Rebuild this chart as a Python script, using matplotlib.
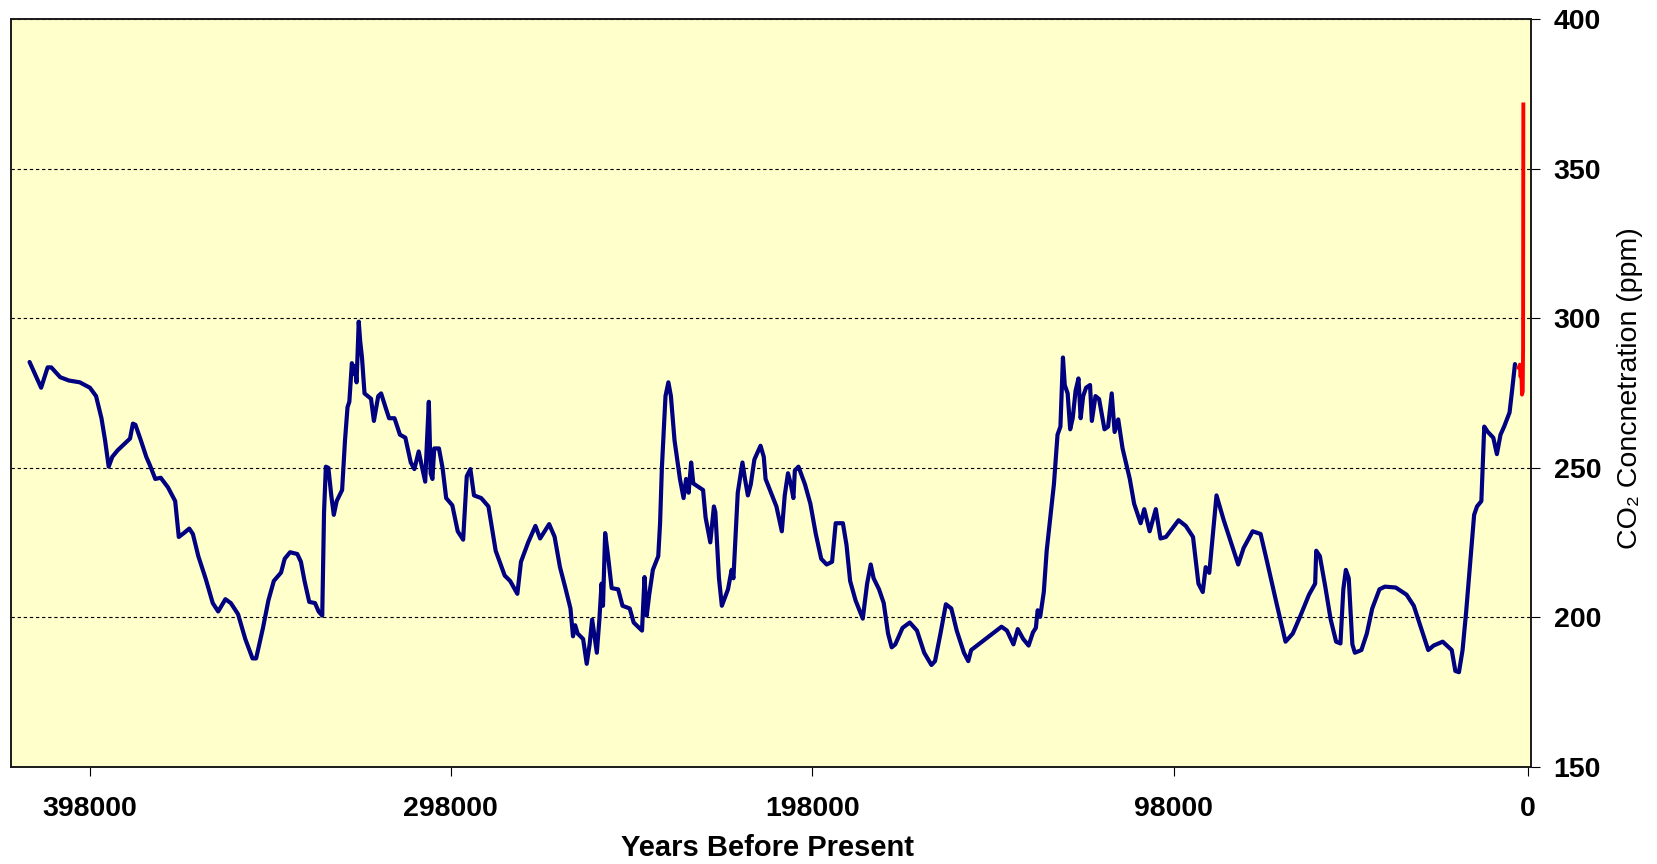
import matplotlib
matplotlib.use("Agg")
import matplotlib.pyplot as plt

# Vostok-style ice core record, years before present vs CO2 (ppm)
years_bp = [
    414600, 411400, 409600, 408600, 406100, 403700, 400700, 397900, 396200, 394700,
    393700, 392700, 391700, 390200, 386800, 386000, 385300, 383800, 382300, 381300,
    379800, 378300, 376300, 374300, 373300, 371900, 370400, 369400, 367900, 365900,
    363900, 362400, 360400, 358900, 356900, 354900, 352900, 351900, 350000, 348500,
    347000, 345000, 344000, 342500, 340500, 339500, 338500, 337200, 335600, 334600,
    333600, 333100, 332600, 331900, 331100, 330400, 329600, 328100, 327300, 326600,
    326100, 325400, 324900, 324600, 324100, 323500, 323100, 322600, 321900, 320100,
    319300, 318100, 317300, 316100, 315100, 313600, 312100, 310600, 309100, 308100,
    306900, 306100, 305100, 304600, 304100, 303600, 303100, 302600, 301300, 300300,
    299300, 297600, 296100, 294600, 293600, 292600, 291600, 289600, 287600, 285600,
    283100, 281600, 279600, 278600, 276600, 274600,
    273300, 270800, 269300, 267800, 266400, 264900, 264200, 263600, 262900, 261400,
    260400, 259600, 258900, 257600, 256900, 256300, 255900, 255300, 254500, 253500,
    251700, 250500, 248500, 247400, 245100, 244400, 243800, 243100, 242100, 240600,
    240100, 239600, 238600, 237800, 237100, 236100, 234600, 233600, 232900, 232200,
    231500, 230900, 228200, 227500, 226200, 225200, 224800, 223800, 223000, 221300,
    220300, 219800, 218600, 217300, 216600, 215800, 215000, 214000, 212300, 211400,
    210900, 209400, 207900, 206400, 205600, 204700, 203900, 203200, 202800, 201800,
    200000, 198500, 197000, 195500, 194000, 192500, 191500, 189500, 188500, 187500,
    186000, 184000, 182800, 181800, 181000, 179500, 178200, 177000, 176000, 175000,
    173000, 171000, 169000, 167000, 165000, 164000, 162500, 161000, 159500, 158000,
    156000, 154800, 154000, 151000, 148100, 145600, 144100, 142300, 141100, 139600,
    138100, 136900, 136100, 135600, 134900, 133900, 133100, 132100, 131100, 130100,
    129300, 128600, 128100, 127300, 126600, 125900, 125100, 124300, 123700, 123000,
    122200,
    121100, 120600, 119600, 118600, 117100, 116100, 115100, 114300, 113300, 112100,
    110100, 108900, 107100, 106100, 104600, 102900, 101600, 100100, 96600, 94600,
    92600, 91100, 89900, 89100, 88100, 86100, 84100, 81600, 80100, 78600,
    76100, 73900, 72100, 69500, 67000, 65000, 63000, 60500, 58800, 58500,
    57500, 56000, 54500, 53000, 51800, 51000, 50300, 49500, 48500, 47800,
    46000, 44500, 43000, 41000, 39500, 36500, 33500, 31500, 29500, 27500,
    26000, 23500, 21000, 20000, 19000, 18000, 17000, 16000, 14800, 14000,
    12800, 12000, 11000, 9500, 8500, 7500, 6500, 5000, 4300, 3500,
]
co2_ppm = [
    285.4, 276.8, 283.6, 283.6, 280.3, 279.2, 278.6, 276.8, 274.0, 266.6,
    259.2, 250.4, 253.7, 255.9, 259.8, 264.8, 264.4, 259.2, 253.7, 250.9,
    246.3, 246.7, 243.5, 238.9, 226.9, 228.2, 229.7, 227.9, 220.5, 213.1,
    204.8, 202.0, 206.1, 204.8, 201.1, 192.8, 186.3, 186.3, 196.5, 205.7,
    212.2, 215.0, 219.6, 221.8, 221.2, 218.6, 212.2, 205.2, 204.8, 202.0,
    200.6, 235.2, 250.4, 250.0, 240.8, 234.3, 238.9, 242.6, 259.2, 270.3,
    272.1, 285.0, 281.4, 284.1, 278.6, 298.9, 292.4, 286.9, 274.9, 273.1,
    265.7, 274.0, 274.9, 270.3, 266.6, 266.6, 261.1, 260.1, 251.8, 249.6,
    255.5, 250.9, 245.4, 259.2, 272.1, 248.2, 246.3, 256.5, 256.5, 250.0,
    239.9, 237.5, 228.8, 226.0, 247.2, 249.6, 240.8, 239.9, 237.1, 222.3,
    214.0, 212.2, 207.9, 218.6, 225.1, 230.6,
    226.4, 231.2, 227.0, 216.8, 210.3, 203.0, 193.7, 197.4, 194.6, 192.8,
    184.5, 191.0, 199.3, 188.2, 199.3, 211.3, 203.9, 228.2, 220.5, 209.8,
    209.4, 203.9, 203.0, 198.3, 195.6, 213.5, 200.6, 207.6, 215.9, 220.5,
    231.5, 250.0, 274.0, 278.6, 274.0, 259.2, 246.3, 239.9, 246.3, 241.7,
    251.8, 244.8, 242.6, 233.4, 225.1, 237.1, 235.2, 213.1, 203.9, 209.4,
    215.9, 213.1, 241.7, 251.8, 246.3, 240.8, 244.5, 252.8, 257.4, 253.7,
    246.3, 241.7, 237.1, 228.8, 240.8, 248.2, 244.5, 239.9, 249.1, 250.4,
    244.5, 238.0, 227.9, 219.6, 217.7, 218.6, 231.5, 231.5, 224.2, 212.2,
    205.7, 199.6, 211.3, 217.7, 213.1, 209.4, 204.8, 194.6, 190.0, 191.0,
    196.5, 198.3, 195.6, 188.2, 184.1, 185.4, 194.6, 204.4, 203.0, 195.6,
    188.2, 185.4, 189.1, 191.9, 194.6, 196.9, 195.6, 191.0, 196.1, 192.8,
    190.6, 195.0, 196.5, 202.4, 200.2, 208.5, 222.3, 233.4, 244.5, 261.1,
    263.8, 286.9, 277.7, 274.9, 262.9, 266.6, 275.8, 279.9, 266.6, 274.0,
    276.8,
    277.7, 265.7, 274.0, 273.0, 262.9, 263.8, 274.9, 262.0, 266.2, 256.5,
    246.3, 238.0, 231.5, 236.2, 228.8, 236.2, 226.4, 226.9, 232.5, 230.6,
    226.9, 211.3, 208.5, 216.8, 214.9, 240.8, 232.5, 223.2, 217.7, 223.2,
    228.8, 227.9, 218.6, 204.8, 191.9, 194.6, 200.2, 207.6, 211.3, 222.3,
    220.5, 210.3, 199.3, 191.9, 191.3, 209.4, 215.9, 213.1, 191.0, 188.2,
    189.1, 194.6, 203.0, 209.4, 210.3, 210.0, 207.6, 203.9, 196.5, 189.1,
    190.6, 191.9, 189.1, 182.1, 181.7, 189.1, 202.0, 216.8, 234.3, 237.1,
    238.9, 263.8, 262.0, 260.1, 254.6, 261.1, 263.8, 268.5, 275.8, 284.7,
]

# recent record (red)
modern_years = [2460, 2150, 1950, 1750, 1550, 1350, 1250, 1180]
modern_ppm = [283.5, 284.5, 280.5, 282.5, 274.5, 275.5, 290.0, 371.5]

x_ticks = [398000, 298000, 198000, 98000, 0]
y_ticks = [150, 200, 250, 300, 350, 400]

plt.rcParams['font.family'] = ['Liberation Sans', 'DejaVu Sans']

fig = plt.figure(figsize=(16.57, 8.64), dpi=100)
ax = fig.add_axes([0.00694, 0.11227, 0.91678, 0.86551])
ax.set_facecolor('#FFFFCC')

ax.plot(years_bp, co2_ppm, color='#000080', linewidth=3.0,
        solid_joinstyle='round', solid_capstyle='round')
ax.plot(modern_years, modern_ppm, color='#FF0000', linewidth=2.8)

ax.set_xlim(419600, -830)
ax.set_ylim(150, 400)
ax.set_xticks(x_ticks)
ax.set_xticklabels([str(t) for t in x_ticks])
ax.set_yticks(y_ticks)
ax.yaxis.tick_right()

ax.grid(axis='y', color='black', linestyle=(0, (3, 2.5)), linewidth=0.8)

ax.tick_params(axis='x', direction='out', length=6.3, width=0.8, pad=14.5, labelsize=20.5)
ax.tick_params(axis='y', direction='out', length=6.5, width=0.8, pad=10, labelsize=20.5,
               left=False, right=True)
for lbl in ax.get_xticklabels() + ax.get_yticklabels():
    lbl.set_fontweight('bold')

for s in ax.spines.values():
    s.set_linewidth(1.4)
    s.set_color('#1a1a1a')

ax.set_xlabel('Years Before Present', fontsize=21, fontweight='bold')
ax.xaxis.set_label_coords(0.4977, -0.0890)

ax.set_ylabel('CO₂ Concnetration (ppm)', fontsize=20.5)
ax.yaxis.set_label_position('right')
ax.yaxis.set_label_coords(1.0654, 0.5068)
ax.yaxis.label.set_va('center')

fig.savefig('out.png', dpi=100)
